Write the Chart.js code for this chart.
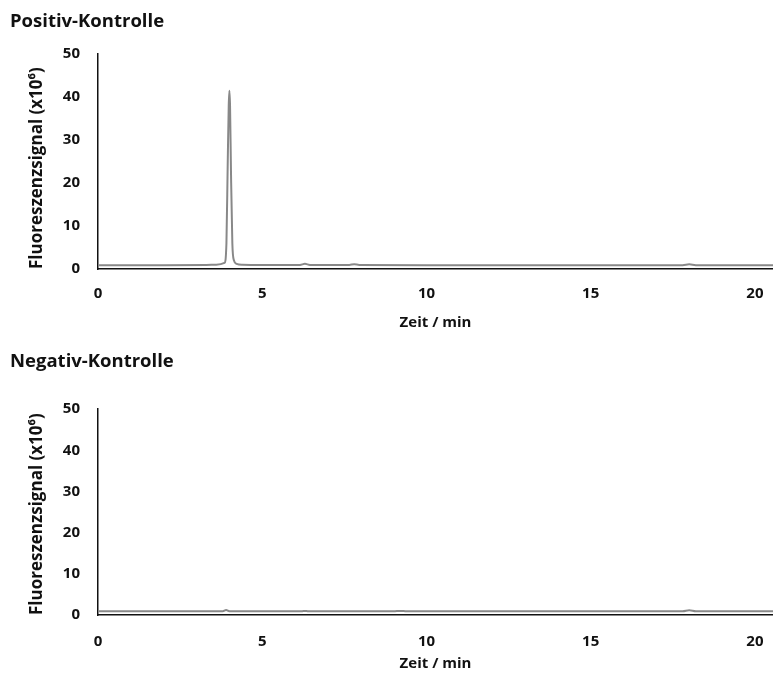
<!DOCTYPE html>
<html>
<head>
<meta charset="utf-8">
<script src="https://cdn.jsdelivr.net/npm/chart.js@4/dist/chart.umd.min.js"></script>
<style>
  body { margin: 0; background: #fff; }
  .panel { position: absolute; left: 0; width: 773px; }
</style>
</head>
<body>
<div class="panel" style="top:0;height:340px"><canvas id="pos"></canvas></div>
<div class="panel" style="top:340px;height:337px"><canvas id="neg"></canvas></div>
<script>
// Chromatogramme (Zeit in min, Signal in 10^6)
const posTime = [0, 2.0, 3.3, 3.6, 3.85, 3.91, 3.95, 3.98, 4.0, 4.02, 4.05, 4.09, 4.14, 4.22, 4.4, 5.0, 6.15, 6.3, 6.45, 7.65, 7.8, 7.95, 10.0, 14.0, 17.8, 18.0, 18.2, 20.6];
const posSignal = [0.9, 0.9, 0.95, 1.0, 1.4, 6.0, 25.0, 38.0, 41.5, 38.0, 22.0, 6.0, 2.0, 1.2, 1.0, 0.95, 0.95, 1.2, 0.95, 0.95, 1.1, 0.95, 0.9, 0.9, 0.9, 1.1, 0.9, 0.9];

const negTime = [0, 3.0, 3.8, 3.9, 4.0, 5.0, 6.2, 6.3, 6.4, 9.0, 9.2, 9.4, 14.0, 17.8, 18.0, 18.2, 20.6];
const negSignal = [0.9, 0.9, 0.9, 1.2, 0.9, 0.9, 0.9, 1.0, 0.9, 0.9, 1.0, 0.9, 0.9, 0.9, 1.15, 0.9, 0.9];

const xTicks = [0, 5, 10, 15, 20];
const yTicks = [0, 10, 20, 30, 40, 50];

const font = "'Open Sans', 'Noto Sans', sans-serif";

// lay: title gap below, height of the x scale, label and title paddings
function makeChart(id, title, times, signal, lay) {
  const points = times.map((t, i) => ({ x: t, y: signal[i] }));
  return new Chart(document.getElementById(id), {
    type: "line",
    data: {
      datasets: [{
        data: points,
        borderColor: "#888",
        borderWidth: 2,
        pointRadius: 0,
        cubicInterpolationMode: "monotone",
        fill: false
      }]
    },
    options: {
      responsive: true,
      maintainAspectRatio: false,
      animation: false,
      layout: { padding: { left: 10, right: 0, top: 0, bottom: 0 } },
      plugins: {
        legend: { display: false },
        tooltip: { enabled: false },
        title: {
          display: true,
          text: title,
          align: "start",
          color: "#111",
          font: { family: font, size: 18.5, weight: "bold" },
          padding: { top: 11, bottom: lay.titleGap }
        }
      },
      scales: {
        x: {
          type: "linear",
          min: 0,
          max: 20.55,
          afterBuildTicks: s => { s.ticks = xTicks.map(v => ({ value: v })); },
          afterFit: s => { s.height = lay.xHeight; s.paddingRight = 0; s.paddingLeft = 0; },
          grid: { drawOnChartArea: false, drawTicks: false },
          border: { color: "#111", width: 1.5 },
          ticks: { color: "#111", padding: lay.labelPad, font: { family: font, size: 15, weight: "bold" } },
          title: {
            display: true,
            text: "Zeit / min",
            color: "#111",
            font: { family: font, size: 15, weight: "bold" },
            padding: { top: 0, bottom: lay.xTitleBottom }
          }
        },
        y: {
          min: 0,
          max: 50,
          afterBuildTicks: s => { s.ticks = yTicks.map(v => ({ value: v })); },
          afterFit: s => { s.width = 88; },
          grid: { drawOnChartArea: false, drawTicks: false },
          border: { color: "#111", width: 1.5 },
          ticks: { color: "#111", padding: 18, font: { family: font, size: 15, weight: "bold" } },
          title: {
            display: true,
            text: "Fluoreszenzsignal (x10\u2076)",
            align: "start",
            color: "#111",
            font: { family: font, size: 17, weight: "bold" },
            padding: { top: 17, bottom: 0 }
          }
        }
      }
    }
  });
}

makeChart("pos", "Positiv-Kontrolle", posTime, posSignal,
  { titleGap: 21, xHeight: 71, labelPad: 16, xTitleBottom: 8 });
makeChart("neg", "Negativ-Kontrolle", negTime, negSignal,
  { titleGap: 36, xHeight: 62, labelPad: 18, xTitleBottom: 4 });
</script>
</body>
</html>
